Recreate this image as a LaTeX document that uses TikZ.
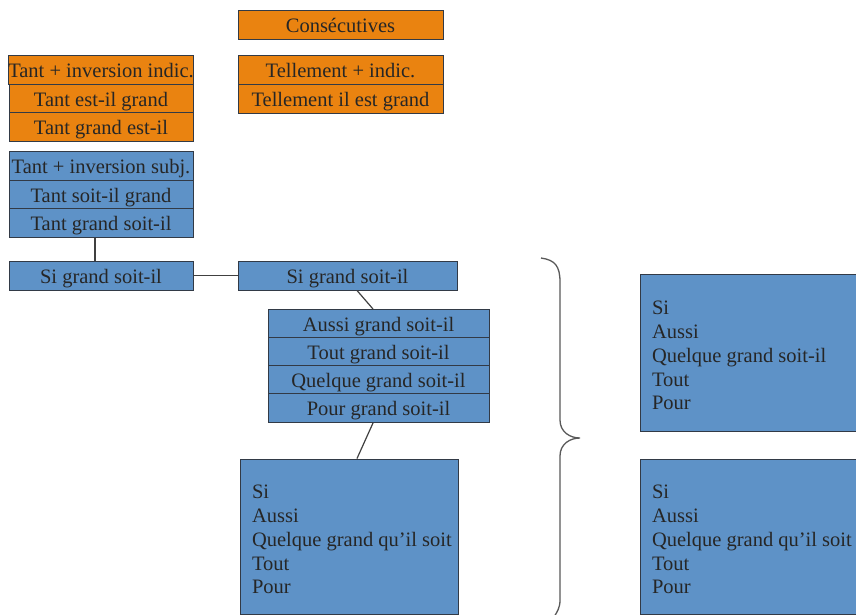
\documentclass[tikz,border=0pt]{standalone}
\usepackage{fontspec}
\setmainfont{Liberation Serif}
\definecolor{boxorange}{RGB}{234,131,16}
\definecolor{boxblue}{RGB}{94,146,199}
\definecolor{boxline}{RGB}{50,58,70}
\begin{document}
\begin{tikzpicture}
[x=1pt,y=-1pt,
  cell/.style={shape=rectangle,draw=boxline,line width=1pt,inner sep=0pt,
    minimum height=29pt,text height=17pt,text depth=2pt,
    font=\fontsize{20.5}{23.75}\selectfont},
  orangecell/.style={cell,fill=boxorange,text=black!85},
  bluecell/.style={cell,fill=boxblue,text=black!85},
  listbox/.style={bluecell,text height=20pt,text depth=,minimum height=157pt,
    inner xsep=12pt,text width=194pt,align=left,
    execute at begin node={\spaceskip=0pt\xspaceskip=0pt\relax}},
  linkline/.style={-,draw=black!75,line width=1.2pt}]
\clip (0,0) rectangle (856,615);
\fill[white] (0,0) rectangle (856,615);
%% orange boxes
\node (cons) at (340.5,25.5) [orangecell,minimum width=205pt] {Consécutives};
\foreach \nodename/\y/\label in {tii/70.5/Tant + inversion indic.,
  teg/99/Tant est-il grand, tge/127/Tant grand est-il} {
  \node (\nodename) at (101,\y) [orangecell,minimum width=184pt] {\label};
}
\foreach \nodename/\y/\label in {tel/70.5/Tellement + indic.,
  tig/99/Tellement il est grand} {
  \node (\nodename) at (340.5,\y) [orangecell,minimum width=205pt] {\label};
}
%% blue boxes
\foreach \nodename/\y/\label in {tis/165.5/Tant + inversion subj.,
  tsg/194.5/Tant soit-il grand, tgs/223/Tant grand soit-il} {
  \node (\nodename) at (101,\y) [bluecell,minimum width=184pt] {\label};
}
\node (sil) at (101,275.5) [bluecell,minimum width=184pt] {Si grand soit-il};
\node (sir) at (347.5,275.5) [bluecell,minimum width=219pt] {Si grand soit-il};
\foreach \nodename/\y/\label in {ags/324/Aussi grand soit-il,
  ogs/352/Tout grand soit-il, qgs/380/Quelque grand soit-il,
  pgs/408/Pour grand soit-il} {
  \node (\nodename) at (378.5,\y) [bluecell,minimum width=221pt] {\label};
}
\node (lqs) at (349,536.5) [listbox,minimum height=155pt] {Si\\Aussi\\\mbox{Quelque grand qu’il soit}\\Tout\\Pour};
\node (rsi) at (749,352.5) [listbox] {Si\\Aussi\\Quelque grand soit-il\\Tout\\Pour};
\node (rqs) at (749,536.5) [listbox,minimum height=155pt] {Si\\Aussi\\\mbox{Quelque grand qu’il soit}\\Tout\\Pour};
%% links
\draw[linkline] ([xshift=-6pt]tgs.south) -- ([xshift=-6pt]sil.north);
\draw[linkline] (sil.east) -- (sir.west);
\draw[linkline] ([xshift=9.5pt]sir.south) -- ([xshift=-5.5pt]ags.north);
\draw[linkline] ([xshift=-5.5pt]pgs.south) -- ([xshift=8pt]lqs.north);
%% brace
\draw[draw=black!65,line width=1.3pt]
  (541,258) .. controls (555,260) and (560,266) .. (560,282)
  -- (560,420) .. controls (560,432) and (570,438) .. (580,438)
  .. controls (570,438) and (560,444) .. (560,456)
  -- (560,600) .. controls (560,608) and (557,612) .. (554,617);
\end{tikzpicture}
\end{document}
